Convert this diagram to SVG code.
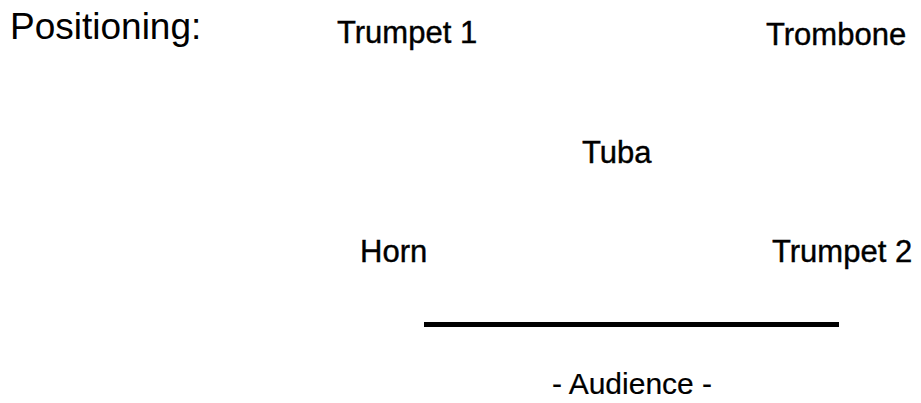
<svg xmlns="http://www.w3.org/2000/svg" width="921" height="403" viewBox="0 0 921 403">
<style>
.t{font-family:"Liberation Sans",Arial,sans-serif;font-size:37px;fill:#000}
.n{font-family:"Liberation Sans",Arial,sans-serif;font-size:31px;fill:#000;stroke:#000;stroke-width:0.4px}
</style>
<rect width="921" height="403" fill="#fff"/>
<text class="t" x="10" y="39">Positioning:</text>
<g id="trumpet1"><text class="n" x="337" y="43">Trumpet 1</text></g>
<g id="trombone"><text class="n" x="766" y="45">Trombone</text></g>
<g id="tuba"><text class="n" x="582" y="163">Tuba</text></g>
<g id="horn"><text class="n" x="360" y="262">Horn</text></g>
<g id="trumpet2"><text class="n" x="772" y="262">Trumpet 2</text></g>
<g id="connectors"><rect x="424" y="322" width="415" height="5" fill="#000"/></g>
<g id="audience"><text class="n" x="552" y="394" style="font-size:30px;stroke-width:0.2px">- Audience -</text></g>
</svg>
